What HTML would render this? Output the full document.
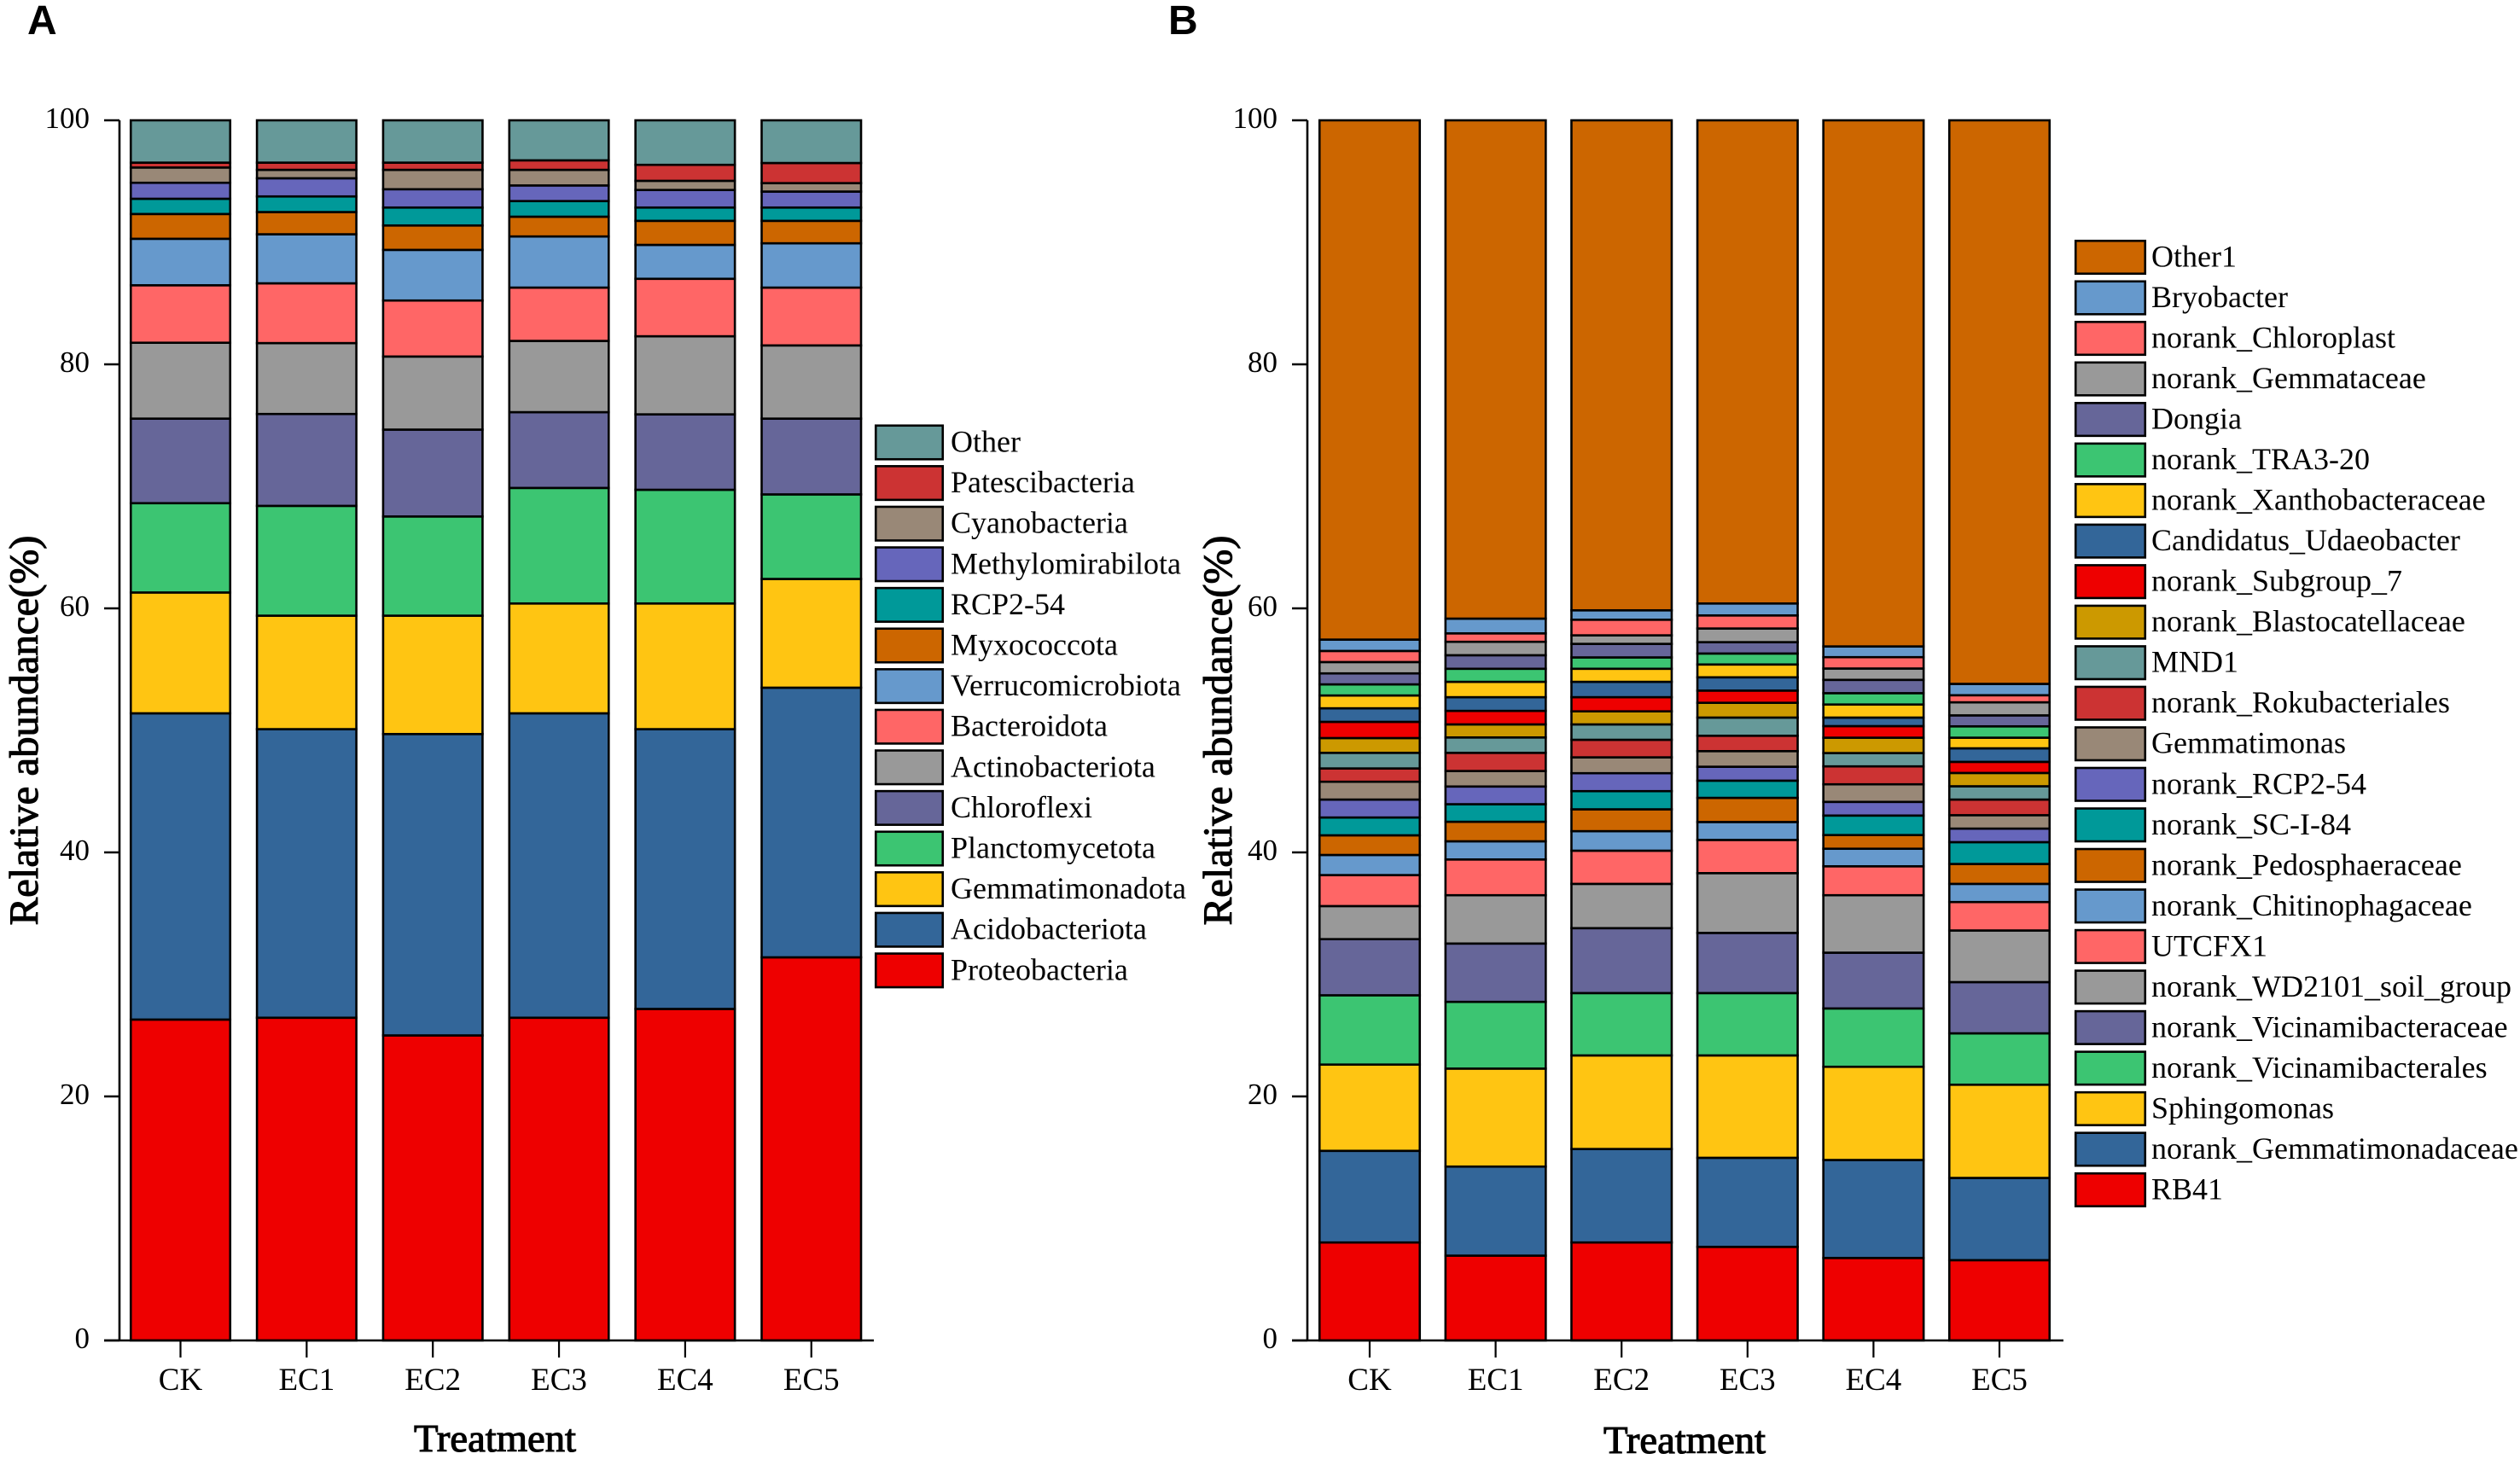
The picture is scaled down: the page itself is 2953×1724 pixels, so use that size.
<!DOCTYPE html>
<html lang="en">
<head>
<meta charset="utf-8">
<title>Relative abundance stacked bars</title>
<style>
html,body{margin:0;padding:0;background:#fff;width:2953px;height:1724px;overflow:hidden}
svg{display:block}
text{font-family:"Liberation Serif",serif;fill:#000}
.panel-letter{font-family:"Liberation Sans",sans-serif;font-weight:700;font-size:48px}
</style>
</head>
<body>
<svg id="chart" xmlns="http://www.w3.org/2000/svg" width="2953" height="1724" viewBox="0 0 2953 1724">
<rect x="0" y="0" width="2953" height="1724" fill="#fff"/>
<text class="panel-letter" x="32" y="40">A</text>
<text class="panel-letter" x="1369" y="40">B</text>
</svg>
<script>
// Shared axis data
const treatments = ['CK','EC1','EC2','EC3','EC4','EC5'];
const yTicks = [0,20,40,60,80,100];
const xTitle = 'Treatment';
const yTitle = 'Relative abundance(%)';

// Panel A: series listed bottom to top of the stack; values per treatment
const proteobacteria   = [26.30,26.45,25.00,26.45,27.17,31.40];
const acidobacteriota  = [25.10,23.65,24.70,24.95,22.93,22.10];
const gemmatimonadota  = [9.90,9.30,9.70,9.00,10.30,8.91];
const planctomycetota  = [7.32,9.00,8.13,9.47,9.32,6.93];
const chloroflexi      = [6.93,7.53,7.12,6.21,6.18,6.21];
const actinobacteriota = [6.22,5.81,5.99,5.84,6.40,6.00];
const bacteroidota     = [4.71,4.90,4.59,4.37,4.71,4.74];
const verrucomicrobiota= [3.81,4.02,4.15,4.19,2.78,3.63];
const myxococcota      = [2.03,1.82,2.00,1.62,1.97,1.84];
const rcp254           = [1.25,1.28,1.47,1.28,1.09,1.09];
const methylomirabilota= [1.31,1.49,1.50,1.28,1.44,1.31];
const cyanobacteria    = [1.25,0.69,1.59,1.28,0.75,0.69];
const patescibacteria  = [0.40,0.59,0.59,0.78,1.31,1.65];
const otherPhyla       = [3.47,3.47,3.47,3.28,3.65,3.50];
const phylumValues = [proteobacteria,acidobacteriota,gemmatimonadota,planctomycetota,chloroflexi,actinobacteriota,bacteroidota,verrucomicrobiota,myxococcota,rcp254,methylomirabilota,cyanobacteria,patescibacteria,otherPhyla];
const phylumNames = ['Proteobacteria','Acidobacteriota','Gemmatimonadota','Planctomycetota','Chloroflexi','Actinobacteriota','Bacteroidota','Verrucomicrobiota','Myxococcota','RCP2-54','Methylomirabilota','Cyanobacteria','Patescibacteria','Other'];

// Panel B: series listed bottom to top of the stack; values per treatment
const rb41            = [8.03,6.95,8.03,7.67,6.76,6.58];
const nGemmatimonad   = [7.51,7.30,7.66,7.30,8.03,6.74];
const sphingomonas    = [7.07,8.03,7.67,8.39,7.64,7.64];
const nVicinBacterales= [5.68,5.47,5.11,5.11,4.78,4.21];
const nVicinBacteracea= [4.60,4.78,5.32,4.93,4.57,4.20];
const nWd2101         = [2.71,3.96,3.63,4.90,4.71,4.23];
const utcfx1          = [2.54,2.93,2.72,2.72,2.37,2.33];
const nChitinophag    = [1.65,1.49,1.60,1.47,1.44,1.49];
const nPedosphaer     = [1.61,1.60,1.79,1.98,1.12,1.63];
const nScI84          = [1.46,1.44,1.49,1.41,1.60,1.79];
const nRcp254         = [1.47,1.45,1.47,1.14,1.12,1.11];
const gemmatimonas    = [1.46,1.27,1.30,1.28,1.44,1.10];
const nRokubacteriales= [1.09,1.49,1.44,1.26,1.47,1.28];
const mnd1            = [1.28,1.26,1.26,1.49,1.09,1.09];
const nBlastocatell   = [1.21,1.07,1.07,1.21,1.26,1.09];
const nSubgroup7      = [1.33,1.11,1.16,1.00,0.95,0.91];
const udaeobacter     = [1.11,1.12,1.26,1.09,0.70,1.11];
const nXanthobacter   = [1.05,1.26,1.07,1.05,1.07,0.87];
const nTra320         = [0.91,1.07,0.93,0.90,0.93,0.93];
const dongia          = [0.90,1.11,1.11,0.93,1.09,0.90];
const nGemmataceae    = [0.93,1.10,0.70,1.12,0.93,1.07];
const nChloroplast    = [0.91,0.69,1.28,1.07,0.93,0.58];
const bryobacter      = [0.93,1.21,0.77,0.98,0.88,0.93];
const other1          = [42.56,40.84,40.16,39.60,43.12,46.19];
const genusValues = [rb41,nGemmatimonad,sphingomonas,nVicinBacterales,nVicinBacteracea,nWd2101,utcfx1,nChitinophag,nPedosphaer,nScI84,nRcp254,gemmatimonas,nRokubacteriales,mnd1,nBlastocatell,nSubgroup7,udaeobacter,nXanthobacter,nTra320,dongia,nGemmataceae,nChloroplast,bryobacter,other1];
const genusNames = ['RB41','norank_Gemmatimonadaceae','Sphingomonas','norank_Vicinamibacterales','norank_Vicinamibacteraceae','norank_WD2101_soil_group','UTCFX1','norank_Chitinophagaceae','norank_Pedosphaeraceae','norank_SC-I-84','norank_RCP2-54','Gemmatimonas','norank_Rokubacteriales','MND1','norank_Blastocatellaceae','norank_Subgroup_7','Candidatus_Udaeobacter','norank_Xanthobacteraceae','norank_TRA3-20','Dongia','norank_Gemmataceae','norank_Chloroplast','Bryobacter','Other1'];

// Palette, cycled bottom to top
const palette = ['#EE0000','#336699','#FFC512','#3CC572','#666699','#999999','#FF6666','#6699CC','#CC6600','#009999','#6666BB','#998877','#CC3333','#669999','#CC9900'];
const palette2 = ['#EE0000','#336699','#FFC512','#3CC572','#666699','#999999','#FF6666','#6699CC','#CC6600','#009999','#6666BB','#998877','#CC3333','#669999','#CC9900','#EE0000','#336699','#FFC512','#3CC572','#666699','#999999','#FF6666','#6699CC','#CC6600'];

const NS = 'http://www.w3.org/2000/svg';
const svg = document.getElementById('chart');

function yScale(v){ return 1571 - 14.3 * v; }

function make(tag, attrs, parent){
  const el = document.createElementNS(NS, tag);
  for (const k in attrs) el.setAttribute(k, attrs[k]);
  (parent || svg).appendChild(el);
  return el;
}

function slug(s){ return s.toLowerCase().replace(/[^a-z0-9]+/g,'-').replace(/^-|-$/g,''); }

function drawPanel(p){
  const g = make('g', {});
  
  
  const xScale = i => p.firstCenter + p.step * i;

  // stacked bars
  treatments.forEach((t, i) => {
    let base = 0;
    p.values.forEach((series, s) => {
      const top = base + series[i];
      const rect = make('rect', {
        x: xScale(i) - p.barWidth / 2 + 1.25,
        y: yScale(top),
        width: p.barWidth - 2.5,
        height: yScale(base) - yScale(top),
        fill: p.colors[s],
        stroke: '#000',
        'stroke-width': 2.6
      }, g);
      
      
      base = top;
    });
  });

  // y axis
  const yAxis = make('line', {x1:p.axisX, x2:p.axisX, y1:yScale(100), y2:yScale(0), stroke:'#000','stroke-width':2.6}, g);
  
  
  yTicks.forEach(v => {
    const tick = make('line', {x1:p.axisX - 18, x2:p.axisX, y1:yScale(v), y2:yScale(v), stroke:'#000','stroke-width':2.6}, g);
    
    
    const label = make('text', {x:p.axisX - 35, y:yScale(v) + 9, 'text-anchor':'end', 'font-size':35}, g);
    label.textContent = String(v);
    
    
  });

  // x axis
  const xAxis = make('line', {x1:p.axisX - 18, x2:p.axisEnd, y1:yScale(0), y2:yScale(0), stroke:'#000','stroke-width':2.6}, g);
  
  
  treatments.forEach((t, i) => {
    const tick = make('line', {x1:xScale(i), x2:xScale(i), y1:yScale(0), y2:yScale(0) + 20, stroke:'#000','stroke-width':2.2}, g);
    
    
    const label = make('text', {x:xScale(i), y:1629, 'text-anchor':'middle', 'font-size':37}, g);
    label.textContent = t;
    
    
  });

  // axis titles
  const xt = make('text', {x:p.xTitleX, y:p.xTitleY, 'text-anchor':'middle', 'font-size':45, stroke:'#000', 'stroke-width':1.1, textLength:190, lengthAdjust:'spacingAndGlyphs'}, g);
  xt.textContent = xTitle;
  
  
  const yt = make('text', {
    x:0, y:0, 'text-anchor':'middle', 'font-size':48, stroke:'#000', 'stroke-width':1.1,
    textLength:457, lengthAdjust:'spacingAndGlyphs',
    transform:'translate(' + p.yTitleX + ',856) rotate(-90)'
  }, g);
  yt.textContent = yTitle;
  
  

  // legend, top entry is the last series
  const legend = make('g', {}, g);
  
  
  const count = p.names.length;
  for (let r = 0; r < count; r++){
    const s = count - 1 - r;
    const y = p.legendY + r * p.legendStep;
    const entry = make('g', {}, legend);
    
    
    const sw = make('rect', {x:p.legendX + 1.25, y:y + 1.25, width:p.swatchW - 2.5, height:p.swatchH - 2.5, fill:p.colors[s], stroke:'#000','stroke-width':2.6}, entry);
    
    
    const tx = make('text', {x:p.legendTextX, y:y + p.swatchH / 2 + p.textDy, 'font-size':36}, entry);
    tx.textContent = p.names[s];
    
    
  }
}

drawPanel({
  id:'panel-a', values:phylumValues, names:phylumNames, colors:palette,
  firstCenter:211.5, step:147.85, barWidth:119,
  axisX:140, axisEnd:1024,
  xTitleX:580, xTitleY:1701, yTitleX:44,
  legendX:1025, legendY:497.5, legendStep:47.6, swatchW:81, swatchH:42, legendTextX:1114, textDy:11
});
drawPanel({
  id:'panel-b', values:genusValues, names:genusNames, colors:palette2,
  firstCenter:1605, step:147.6, barWidth:120,
  axisX:1532, axisEnd:2418,
  xTitleX:1974, xTitleY:1703, yTitleX:1443,
  legendX:2431, legendY:281, legendStep:47.52, swatchW:84, swatchH:41, legendTextX:2521, textDy:11
});
</script>
</body>
</html>
